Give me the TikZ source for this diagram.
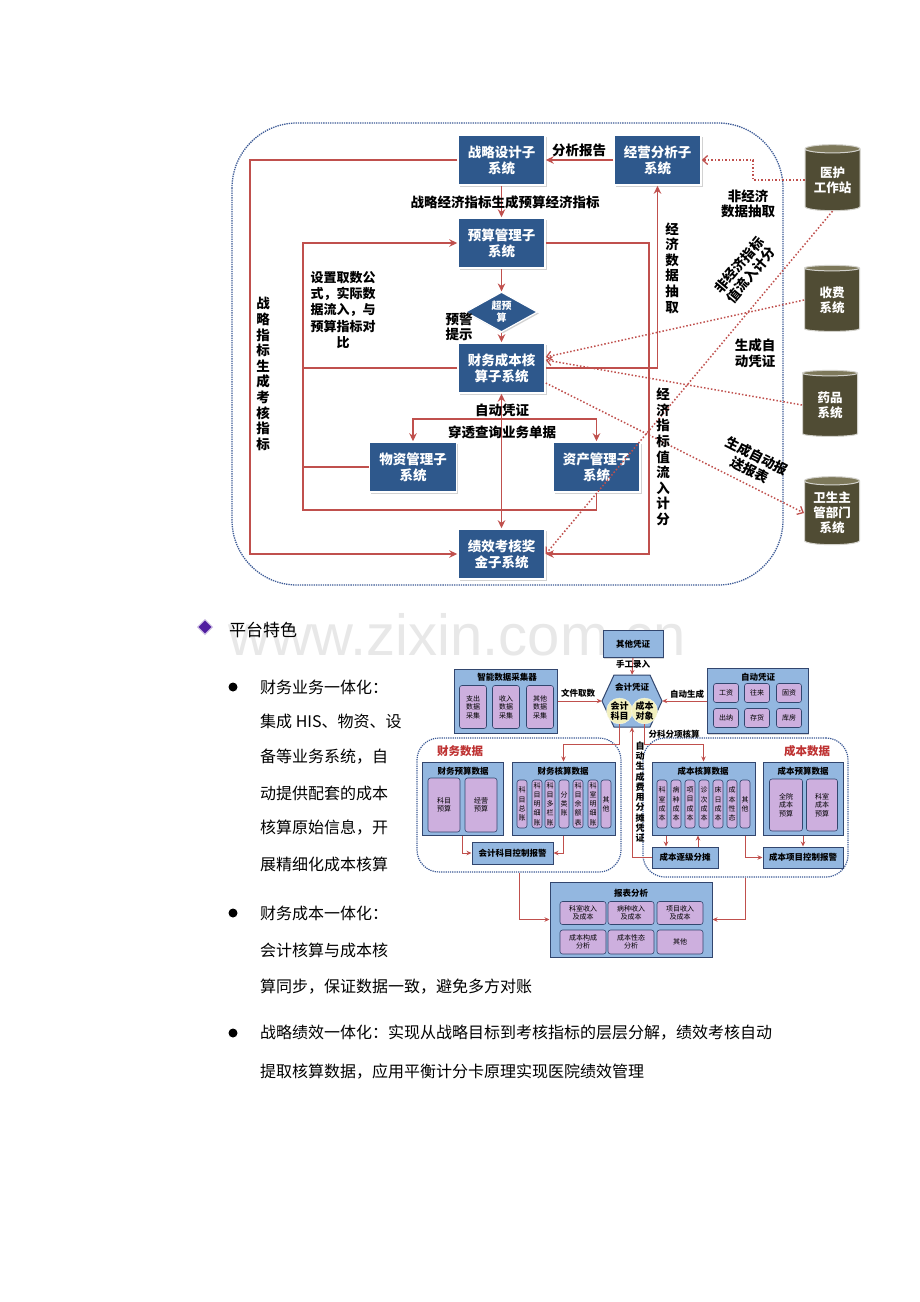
\documentclass[tikz,border=0pt]{standalone}
\usepackage{fontspec}
\setmainfont{Noto Sans CJK SC}
\newfontfamily\wmfont{Liberation Sans}
\usetikzlibrary{shapes.geometric,arrows.meta,shadows,calc}
\definecolor{dkblue}{RGB}{46,88,140}
\definecolor{redl}{RGB}{192,80,77}
\definecolor{dotb}{RGB}{60,90,150}
\definecolor{olivec}{RGB}{80,76,52}
\definecolor{olivetop}{RGB}{125,120,90}
\definecolor{lblue}{RGB}{147,183,224}
\definecolor{navy}{RGB}{50,70,110}
\definecolor{purp}{RGB}{205,175,222}
\definecolor{ylw}{RGB}{242,240,190}
\definecolor{rtxt}{RGB}{190,50,50}
\definecolor{dia}{RGB}{80,30,160}
\begin{document}
\begin{tikzpicture}[x=1pt,y=-1pt,
 sysbox/.style={draw=white, line width=1.5pt, fill=dkblue, minimum width=87, minimum height=50, inner sep=0, text=white, align=center, font=\bfseries\fontsize{13.5}{16}\selectfont, drop shadow={shadow xshift=1.5pt, shadow yshift=-1.5pt, opacity=0.35}},
 cyl/.style={shape=cylinder, shape border rotate=90, aspect=0.22, cylinder uses custom fill, cylinder body fill=olivec, cylinder end fill=olivetop, draw=white!75!olivec, line width=1pt, minimum width=55, minimum height=66, inner sep=0, text=white, align=center, font=\bfseries\fontsize{12.5}{15}\selectfont},
 rl/.style={draw=redl, line width=1.6pt},
 ra/.style={rl, -{Stealth[length=8pt,width=7.5pt]}},
 rd/.style={draw=redl, line width=1.5pt, dotted, -{Straight Barb[length=5pt,width=9pt,line width=1.3pt]}},
 lab/.style={font=\bfseries\fontsize{13.5}{15.5}\selectfont, align=center, inner sep=1pt},
 vlab/.style={font=\bfseries\fontsize{13.5}{15.6}\selectfont, align=center, inner sep=1pt},
 lbox/.style={draw=navy, line width=1pt, fill=lblue, inner sep=0, drop shadow={shadow xshift=1pt, shadow yshift=-1pt, opacity=0.3}},
 pb/.style={draw=navy, line width=0.6pt, fill=purp, rounded corners=2.5pt, inner sep=0, align=center, font=\fontsize{7}{8.5}\selectfont},
 pbar/.style={pb, minimum width=10, minimum height=48, font=\fontsize{7}{9.2}\selectfont},
 ttl/.style={font=\bfseries\fontsize{8.5}{9}\selectfont, inner sep=0},
 rl2/.style={draw=redl, line width=1pt},
 ra2/.style={rl2, -{Stealth[length=5pt,width=4.5pt]}},
 area/.style={draw=dotb, densely dotted, line width=1.2pt, rounded corners=22, inner sep=0},
 blab/.style={font=\bfseries\fontsize{8.5}{10}\selectfont, inner sep=0, align=center},
 body/.style={anchor=west, font=\fontsize{16}{18}\selectfont, inner sep=0}
]
\useasboundingbox (0,0) rectangle (920,1302);
\fill[white] (0,0) rectangle (920,1302);
% watermark
\node[font=\wmfont\fontsize{58}{60}\selectfont, text=black!9, anchor=base] (wm) at (457,655) {www.zixin.com.cn};

% ================= TOP DIAGRAM =================
\draw[dotb, densely dotted, line width=1.3pt, rounded corners=65] (232,123) rectangle (783,585);

\node[sysbox] (zl) at (501.5,160) {战略设计子\\系统};
\node[sysbox] (jy) at (657.5,160) {经营分析子\\系统};
\node[sysbox] (ys) at (501.5,243) {预算管理子\\系统};
\node[shape=diamond, aspect=1.8, draw=white, line width=1.2pt, fill=dkblue, minimum width=72, minimum height=40, inner sep=0, text=white, align=center, font=\bfseries\fontsize{10}{12}\selectfont, drop shadow={shadow xshift=1.5pt, shadow yshift=-1.5pt, opacity=0.35}] (cy) at (501.5,312) {超预\\算};
\node[sysbox] (cw) at (501.5,368) {财务成本核\\算子系统};
\node[sysbox] (wz) at (413,467) {物资管理子\\系统};
\node[sysbox] (zc) at (596.5,467) {资产管理子\\系统};
\node[sysbox] (jx) at (501.5,554) {绩效考核奖\\金子系统};

\node[cyl] (h1) at (832.5,180) {医护\\工作站};
\node[cyl] (h2) at (832,300) {收费\\系统};
\node[cyl] (h3) at (830,405) {药品\\系统};
\node[cyl, minimum height=68] (h4) at (832,513) {卫生主\\管部门\\系统};

\coordinate (v250) at (250,350);
\coordinate (v303) at (303,350);
\coordinate (h510) at (450,510);
\coordinate (v649) at (649,300);
\coordinate (h419) at (500,419);
\coordinate (v753) at (753,170);

\draw[ra] (jy.west) -- (zl.east);
\draw[ra] (zl.south) -- (ys.north);
\draw[ra] (zl.west) -- (zl.west -| v250) -- (v250 |- jx.west) -- (jx.west);
\draw[ra] (zc.south) -- (zc.south |- h510) -- (v303 |- h510) -- (v303 |- ys.west) -- (ys.west);
\draw[rl] (cw.west) -- (cw.west -| v303);
\draw[rl] (wz.west) -- (wz.west -| v303);
\draw[ra] (ys.east) -- (ys.east -| v649) -- (v649 |- jx.east) -- (jx.east);
\draw[ra] (cw.east) -- (cw.east -| jy.south) -- (jy.south);
\draw[ra] (ys.south) -- (cy.north);
\draw[ra] (cy.south) -- (cw.north);
\draw[rl, {Stealth[length=8pt,width=7.5pt]}-{Stealth[length=8pt,width=7.5pt]}] (cw.south) -- (jx.north);
\draw[rl, {Stealth[length=8pt,width=7.5pt]}-{Stealth[length=8pt,width=7.5pt]}] (wz.north) -- (wz.north |- h419) -- (zc.north |- h419) -- (zc.north);

\draw[rd] (h1.west) -- (h1.west -| v753) -- (v753 |- jy.east) -- (jy.east);
\draw[rd] (h1.south) -- (jx.east);
\draw[rd] (h2.west) -- ([yshift=11pt]cw.east);
\draw[rd] (h3.west) -- ([yshift=8pt]cw.east);
\draw[rd] ([yshift=-15pt]cw.east) -- (h4.west);

\node[lab] (l1) at (579,150) {分析报告};
\node[lab] (l2) at (505,202) {战略经济指标生成预算经济指标};
\node[lab] (l3) at (459,327) {预警\\提示};
\node[lab, font=\bfseries\fontsize{13}{16.3}\selectfont] (l4) at (343,310) {设置取数公\\式，实际数\\据流入，与\\预算指标对\\比};
\node[vlab] (l5) at (263,374) {战\\略\\指\\标\\生\\成\\考\\核\\指\\标};
\node[vlab] (l6) at (672,268) {经\\济\\数\\据\\抽\\取};
\node[vlab] (l7) at (663,457) {经\\济\\指\\标\\值\\流\\入\\计\\分};
\node[lab] (l8) at (748,204) {非经济\\数据抽取};
\node[lab, rotate=50] (l9) at (745,270) {非经济指标\\值流入计分};
\node[lab] (l10) at (755,353) {生成自\\动凭证};
\node[lab, rotate=-27] (l11) at (753,463) {生成自动报\\送报表};
\node[lab] (l12) at (502,410) {自动凭证};
\node[lab] (l13) at (502,432) {穿透查询业务单据};

% ================= BOTTOM DIAGRAM =================
\node[area, minimum width=204, minimum height=134] (cwsj) at (519,805) {};
\node[area, minimum width=205, minimum height=139] (cbsj) at (745.5,807.5) {};
\node[font=\bfseries\fontsize{11.5}{12}\selectfont, text=rtxt, inner sep=0] (t1) at (460,751) {财务数据};
\node[font=\bfseries\fontsize{11.5}{12}\selectfont, text=rtxt, inner sep=0] (t2) at (807,751) {成本数据};

\node[lbox, minimum width=60, minimum height=27, font=\bfseries\fontsize{8.5}{9}\selectfont] (qt) at (633,644) {其他凭证};
\draw[navy, line width=1pt, fill=lblue] (602,701) -- (614,675) -- (650,675) -- (662,701) -- (650,727) -- (614,727) -- cycle;
\node[minimum width=60, minimum height=52, inner sep=0] (hx) at (632,701) {};
\node[blab] (hxt) at (632,687) {会计凭证};
\node[circle, minimum size=25, inner sep=0, fill=ylw, draw=white!60!ylw, font=\bfseries\fontsize{9}{10}\selectfont, align=center] (km) at (619.5,711) {会计\\科目};
\node[circle, minimum size=25, inner sep=0, fill=ylw, draw=white!60!ylw, font=\bfseries\fontsize{9}{10}\selectfont, align=center] (cd) at (644.5,711) {成本\\对象};
\draw[ra2] (qt.south) -- (hx.north);
\node[blab] (t3) at (633,664) {手工录入};

\node[lbox, minimum width=103, minimum height=64] (cj) at (505.5,701) {};
\node[ttl] (cjt) at (507,677) {智能数据采集器};
\node[pb, minimum width=27, minimum height=43] (cj1) at (473,707) {支出\\数据\\采集};
\node[pb, minimum width=27, minimum height=43] (cj2) at (506,707) {收入\\数据\\采集};
\node[pb, minimum width=27, minimum height=43] (cj3) at (540,707) {其他\\数据\\采集};
\draw[ra2] (cj.east) -- (hx.west);
\node[blab] (t4) at (578,693) {文件取数};

\node[lbox, minimum width=101, minimum height=65] (zd) at (757.5,701) {};
\node[ttl] (zdt) at (758,677) {自动凭证};
\node[pb, minimum width=25, minimum height=19] (z1) at (726,693) {工资};
\node[pb, minimum width=25, minimum height=19] (z2) at (757,693) {往来};
\node[pb, minimum width=25, minimum height=19] (z3) at (789,693) {固资};
\node[pb, minimum width=25, minimum height=19] (z4) at (726,718) {出纳};
\node[pb, minimum width=25, minimum height=19] (z5) at (757,718) {存货};
\node[pb, minimum width=25, minimum height=19] (z6) at (789,718) {库房};
\draw[ra2] (zd.west) -- (hx.east);
\node[blab] (t5) at (687,694) {自动生成};

% finance data
\node[lbox, minimum width=81, minimum height=73] (yssj) at (462.5,798.5) {};
\node[ttl] (yst) at (463,771) {财务预算数据};
\node[pb, minimum width=32, minimum height=54] (ys1) at (444,805) {科目\\预算};
\node[pb, minimum width=32, minimum height=54] (ys2) at (481,805) {经营\\预算};
\node[lbox, minimum width=103, minimum height=73] (hs) at (563.5,798.5) {};
\node[ttl] (hst) at (563,771) {财务核算数据};
\node[pbar] (b1) at (522,804) {科\\目\\总\\账};
\node[pbar] (b2) at (537,804) {科\\目\\明\\细\\账};
\node[pbar] (b3) at (550,804) {科\\目\\多\\栏\\账};
\node[pbar] (b4) at (564,804) {分\\类\\账};
\node[pbar] (b5) at (578,804) {科\\目\\余\\额\\表};
\node[pbar] (b6) at (593,804) {科\\室\\明\\细\\账};
\node[pbar] (b7) at (606,804) {其\\他};
\node[lbox, minimum width=81, minimum height=22, font=\bfseries\fontsize{8.5}{9}\selectfont] (kz) at (512.5,853) {会计科目控制报警};
\draw[ra2] (yssj.south) |- (kz.west);
\draw[ra2] (hs.south) |- (kz.east);

\coordinate (hy744) at (600,744);
\draw[ra2] (km.south) -- (km.south |- hy744) -- (hs.north |- hy744) -- (hs.north);

% cost data
\node[lbox, minimum width=103, minimum height=73] (hsc) at (703.5,798.5) {};
\node[ttl] (hsct) at (703,771) {成本核算数据};
\node[pbar] (c1) at (662,804) {科\\室\\成\\本};
\node[pbar] (c2) at (676,804) {病\\种\\成\\本};
\node[pbar] (c3) at (690,804) {项\\目\\成\\本};
\node[pbar] (c4) at (704,804) {诊\\次\\成\\本};
\node[pbar] (c5) at (718,804) {床\\日\\成\\本};
\node[pbar] (c6) at (732,804) {成\\本\\性\\态};
\node[pbar] (c7) at (745,804) {其\\他};
\node[lbox, minimum width=80, minimum height=73] (cys) at (803,798.5) {};
\node[ttl] (cyst) at (803,771) {成本预算数据};
\node[pb, minimum width=33, minimum height=52] (cy1) at (786,805) {全院\\成本\\预算};
\node[pb, minimum width=31, minimum height=52] (cy2) at (822,805) {科室\\成本\\预算};
\node[lbox, minimum width=66, minimum height=21, font=\bfseries\fontsize{8.5}{9}\selectfont] (ft) at (685,857.5) {成本逐级分摊};
\node[lbox, minimum width=80, minimum height=21, font=\bfseries\fontsize{8.5}{9}\selectfont] (cbkz) at (803,857.5) {成本项目控制报警};
\draw[ra2] (cd.south) -- (cd.south |- hy744) -- (hsc.north |- hy744) -- (hsc.north);
\node[blab] (t6) at (674,734) {分科分项核算};
\draw[ra2] ([xshift=-37.5pt]hsc.south) -- ([xshift=-37.5pt]hsc.south |- ft.north);
\draw[ra2] ([xshift=13pt]ft.north) -- ([xshift=13pt]ft.north |- hsc.south);
\draw[ra2] ([xshift=42pt]hsc.south) |- (cbkz.west);
\draw[ra2] (cys.south) -- (cbkz.north);
\draw[ra2] (ft.west) -| (hx.south);
\node[font=\bfseries\fontsize{9}{10.3}\selectfont, align=center, inner sep=0] (t7) at (640,792) {自\\动\\生\\成\\费\\用\\分\\摊\\凭\\证};

% report
\node[lbox, minimum width=162, minimum height=75] (bb) at (631,919.5) {};
\node[ttl] (bbt) at (631,893) {报表分析};
\node[pb, minimum width=46, minimum height=23] (r1) at (583,913) {科室收入\\及成本};
\node[pb, minimum width=46, minimum height=23] (r2) at (631,913) {病种收入\\及成本};
\node[pb, minimum width=46, minimum height=23] (r3) at (680,913) {项目收入\\及成本};
\node[pb, minimum width=46, minimum height=24] (r4) at (583,942) {成本构成\\分析};
\node[pb, minimum width=46, minimum height=24] (r5) at (631,942) {成本性态\\分析};
\node[pb, minimum width=46, minimum height=24] (r6) at (680,942) {其他};
\draw[ra2] (cwsj.south) |- (bb.west);
\draw[ra2] (cbsj.south) |- (bb.east);

% ================= TEXT =================
\node[shape=diamond, fill=dia, draw=dia!30, line width=1pt, minimum width=15, minimum height=15, inner sep=0] (db) at (205,627) {};
\node[body, font=\fontsize{17}{18}\selectfont] (p0) at (229,630) {平台特色};
\fill (233,687) circle (4.5);
\fill (233,913) circle (4.5);
\fill (233,1033) circle (4.5);
\node[body] (p1) at (260,687) {财务业务一体化：};
\node[body] (p2) at (260,721) {集成 HIS、物资、设};
\node[body] (p3) at (260,757) {备等业务系统，自};
\node[body] (p4) at (260,793) {动提供配套的成本};
\node[body] (p5) at (260,828) {核算原始信息，开};
\node[body] (p6) at (260,864) {展精细化成本核算};
\node[body] (p7) at (260,913) {财务成本一体化：};
\node[body] (p8) at (260,950) {会计核算与成本核};
\node[body] (p9) at (260,987) {算同步，保证数据一致，避免多方对账};
\node[body] (p10) at (260,1033) {战略绩效一体化：实现从战略目标到考核指标的层层分解，绩效考核自动};
\node[body] (p11) at (260,1072) {提取核算数据，应用平衡计分卡原理实现医院绩效管理};
\end{tikzpicture}
\end{document}
